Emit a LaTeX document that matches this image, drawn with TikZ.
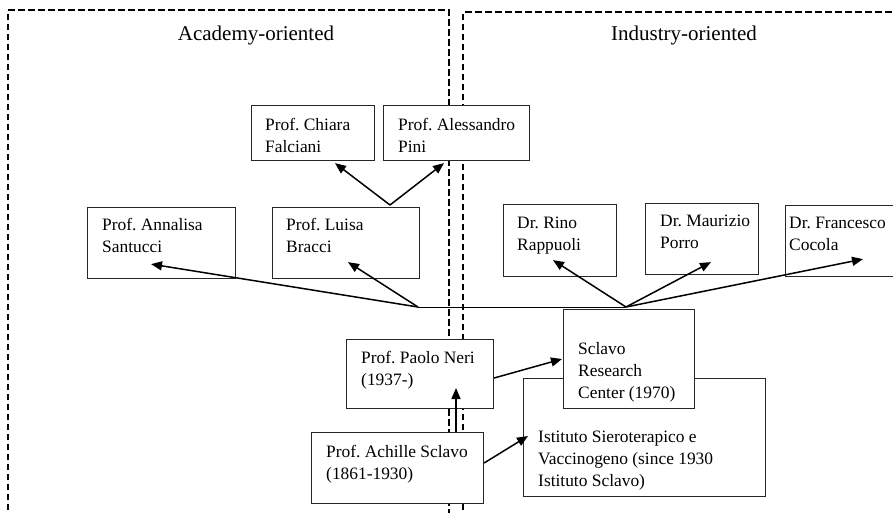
\documentclass[tikz,border=0pt]{standalone}
\usepackage{fontspec}
\setmainfont{Liberation Serif}
\usetikzlibrary{calc,arrows.meta}
\frenchspacing
\tikzset{
  region/.style={line width=1.9pt, dash pattern=on 6.5pt off 3.5pt},
  box/.style={draw=black!85, line width=1.1pt, fill=white, inner sep=0pt, anchor=north west},
  txt/.style={font=\fontsize{17.4}{22}\selectfont, align=left, inner sep=0pt, anchor=north west},
  ttl/.style={font=\fontsize{21}{25}\selectfont, inner sep=0pt, anchor=base},
  arr/.style={line width=1.5pt, -{Triangle[length=11pt,width=9pt]}},
  hubline/.style={line width=1pt}
}
\begin{document}
\begin{tikzpicture}[x=1pt,y=-1pt]
\clip (0,0) rectangle (893,512);
\fill[white] (0,0) rectangle (893,512);
% regions
\draw[region] (8,520) -- (8,10) -- (449,10) -- (449,520);
\draw[region] (463,520) -- (463,12) -- (900,12);
\node[ttl] (tA) at (256,40) {Academy-oriented};
\node[ttl] (tI) at (684,40) {Industry-oriented};
% boxes
\node[box, minimum width=148pt, minimum height=71pt] (annalisa) at (87,207) {};
\node[box, minimum width=147pt, minimum height=71pt] (luisa) at (272,207) {};
\node[box, minimum width=123pt, minimum height=55pt] (chiara) at (251,105) {};
\node[box, minimum width=146pt, minimum height=55pt] (pini) at (383,105) {};
\node[box, minimum width=113pt, minimum height=72pt] (rino) at (503,204) {};
\node[box, minimum width=113pt, minimum height=71pt] (porro) at (645,203) {};
\node[box, minimum width=130pt, minimum height=71pt] (cocola) at (785,205) {};
\node[box, minimum width=147pt, minimum height=69pt] (neri) at (346,339) {};
\node[box, minimum width=172pt, minimum height=71pt] (achille) at (311,432) {};
\node[box, minimum width=242pt, minimum height=118pt] (istituto) at (523,378) {};
\node[box, minimum width=131pt, minimum height=99pt] (rc) at (563,309) {};
% texts
\node[txt] (annalisaT) at (102,218) {Prof. Annalisa\\Santucci};
\node[txt] (luisaT) at (286,218) {Prof. Luisa\\Bracci};
\node[txt] (chiaraT) at (265,118) {Prof. Chiara\\Falciani};
\node[txt] (piniT) at (398,118) {Prof. Alessandro\\Pini};
\node[txt] (rinoT) at (517,217) {Dr. Rino\\Rappuoli};
\node[txt] (porroT) at (660,215) {Dr. Maurizio\\Porro};
\node[txt] (cocolaT) at (789,217) {Dr. Francesco\\Cocola};
\node[txt] (neriT) at (361,351) {Prof. Paolo Neri\\(1937-)};
\node[txt] (achilleT) at (326,445) {Prof. Achille Sclavo\\(1861-1930)};
\node[txt] (rcT) at (578,342) {Sclavo\\Research\\Center (1970)};
\node[txt] (istitutoT) at (538,431) {Istituto Sieroterapico e\\Vaccinogeno (since 1930\\Istituto Sclavo)};
% hubs
\coordinate (hubA) at (418,307);
\coordinate (hubI) at (626,307);
\coordinate (hubL) at ($(luisa.north west)+(118,-2)$);
\draw[hubline] (hubA) -- (hubI);
% connectors
\draw[arr] (hubL) -- ($(chiara.south west)+(84,2)$);
\draw[arr] (hubL) -- ($(pini.south west)+(61,2)$);
\draw[arr] (hubA) -- ($(annalisa.south west)+(64,-15)$);
\draw[arr] (hubA) -- ($(luisa.south west)+(76,-17)$);
\draw[arr] (hubI) -- ($(rino.south west)+(50,-17)$);
\draw[arr] (hubI) -- ($(porro.south west)+(66,-13)$);
\draw[arr] (hubI) -- ($(cocola.south west)+(78,-18)$);
\draw[arr] ($(neri.north east)+(0,39)$) -- ($(rc.north west)+(-1,50)$);
\draw[arr] ($(achille.north west)+(145,0)$) -- ($(neri.north west)+(110,49)$);
\draw[arr] ($(achille.north east)+(0,31)$) -- ($(istituto.north west)+(5,58)$);
\end{tikzpicture}
\end{document}
